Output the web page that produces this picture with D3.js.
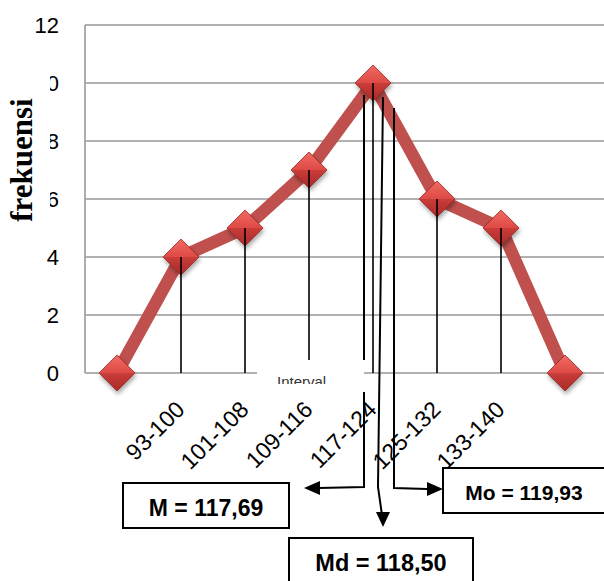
<!DOCTYPE html>
<html lang="id">
<head>
<meta charset="UTF-8">
<title>Poligon frekuensi</title>
<script src="https://d3js.org/d3.v7.min.js"></script>
<style>
  body { margin: 0; background: #fff; }
  svg { display: block; }
</style>
</head>
<body>
<div id="chart"></div>
<script>
    // data
    const intervals = ["", "93-100", "101-108", "109-116", "117-124", "125-132", "133-140", ""];
    const freq = [0, 4, 5, 7, 10, 6, 5, 0];
    const yTicks = [0, 2, 4, 6, 8, 10, 12];
    const stats = [
        { label: "M = 117,69", off: -9 },
        { label: "Md = 118,50", off: 6 },
        { label: "Mo = 119,93", off: 21 }
    ];

    const W = 604, H = 581;
    const plot = { left: 85, right: 597, top: 25, bottom: 373 };

    const svg = d3.select("#chart").append("svg")
        .attr("width", W).attr("height", H);

    const defs = svg.append("defs");
    const grad = defs.append("linearGradient").attr("id", "dia")
        .attr("x1", 0).attr("y1", 0).attr("x2", 0).attr("y2", 1);
    grad.append("stop").attr("offset", "0%").attr("stop-color", "#f26a64");
    grad.append("stop").attr("offset", "50%").attr("stop-color", "#de4a45");
    grad.append("stop").attr("offset", "51%").attr("stop-color", "#c93c38");
    grad.append("stop").attr("offset", "100%").attr("stop-color", "#a82b29");
    const sh = defs.append("filter").attr("id", "shadow")
        .attr("x", "-50%").attr("y", "-50%").attr("width", "200%").attr("height", "200%");
    sh.append("feDropShadow").attr("dx", 1).attr("dy", 3).attr("stdDeviation", 2)
        .attr("flood-color", "#000").attr("flood-opacity", 0.35);
    defs.append("clipPath").attr("id", "intClip")
        .append("rect").attr("x", 257).attr("y", 360).attr("width", 107).attr("height", 24);

    const x = d3.scalePoint()
        .domain(d3.range(intervals.length))
        .range([plot.left, plot.right])
        .padding(0.5);

    const y = d3.scaleLinear()
        .domain([0, 12])
        .range([plot.bottom, plot.top]);

    // grid
    svg.append("g")
        .selectAll("line")
        .data(yTicks)
        .enter()
        .append("line")
        .attr("x1", plot.left)
        .attr("x2", 604)
        .attr("y1", d => y(d))
        .attr("y2", d => y(d))
        .attr("stroke", "#999")
        .attr("stroke-width", 1.6);

    svg.append("line")
        .attr("x1", plot.left).attr("x2", plot.left)
        .attr("y1", y(12)).attr("y2", y(0))
        .attr("stroke", "#999").attr("stroke-width", 1.6);

    // y tick labels
    svg.append("g")
        .selectAll("text")
        .data(yTicks)
        .enter()
        .append("text")
        .attr("x", 59)
        .attr("y", d => y(d) + 8)
        .attr("text-anchor", "end")
        .style("font-family", "Liberation Sans, Arial, sans-serif")
        .style("font-size", "22px")
        .text(d => d);

    // y title with white box (covers part of the tick labels)
    svg.append("rect")
        .attr("x", 0).attr("y", 66).attr("width", 50).attr("height", 180)
        .attr("fill", "#fff");
    svg.append("text")
        .attr("transform", "translate(32,160) rotate(-90)")
        .attr("text-anchor", "middle")
        .style("font-family", "Liberation Serif, 'Times New Roman', serif")
        .style("font-weight", "bold")
        .style("font-size", "31px")
        .text("frekuensi");

    const pts = freq.map((v, i) => ({ i: i, v: v }));
    const peak = pts[d3.maxIndex(freq)];
    const px = x(peak.i), py = y(peak.v);

    // drop lines
    svg.append("g")
        .selectAll("line")
        .data(pts.filter(d => d.v > 0))
        .enter()
        .append("line")
        .attr("x1", d => x(d.i))
        .attr("x2", d => x(d.i))
        .attr("y1", d => y(d.v))
        .attr("y2", y(0))
        .attr("stroke", "#000")
        .attr("stroke-width", 1.6);

    // Interval box
    svg.append("rect")
        .attr("x", 257).attr("y", 360).attr("width", 107).attr("height", 32)
        .attr("fill", "#fff");
    svg.append("text")
        .attr("clip-path", "url(#intClip)")
        .attr("x", 277).attr("y", 387)
        .style("font-family", "Liberation Sans, Arial, sans-serif")
        .style("font-size", "15px")
        .attr("fill", "#333")
        .text("Interval");

    // line
    svg.append("path")
        .datum(pts)
        .attr("d", d3.line().x(d => x(d.i)).y(d => y(d.v)))
        .attr("fill", "none")
        .attr("stroke", "#c0504d")
        .attr("stroke-width", 12.5)
        .attr("stroke-linejoin", "round");

    // markers
    svg.append("g")
        .selectAll("path")
        .data(pts)
        .enter()
        .append("path")
        .attr("transform", d => `translate(${x(d.i)},${y(d.v)})`)
        .attr("d", "M0,-18L18,0L0,18L-18,0Z")
        .attr("fill", "url(#dia)")
        .attr("stroke", "#9a2a28")
        .attr("stroke-width", 0.8)
        .attr("filter", "url(#shadow)");

    // redraw drop line tops over markers
    svg.append("g")
        .selectAll("line")
        .data(pts.filter(d => d.v > 0))
        .enter()
        .append("line")
        .attr("x1", d => x(d.i))
        .attr("x2", d => x(d.i))
        .attr("y1", d => y(d.v))
        .attr("y2", d => y(d.v) + 18)
        .attr("stroke", "#000")
        .attr("stroke-width", 1.6);

    // x labels
    svg.append("g")
        .selectAll("text")
        .data(pts)
        .enter()
        .append("text")
        .attr("transform", d => `translate(${x(d.i) + 5},${plot.bottom + 38}) rotate(-45)`)
        .attr("text-anchor", "end")
        .style("font-family", "Liberation Sans, Arial, sans-serif")
        .style("font-size", "23px")
        .text(d => intervals[d.i]);

    // statistic annotation lines
    const mx = px + stats[0].off, mdx = px + stats[1].off, mox = px + stats[2].off;
    const lineAttr = sel => sel.attr("fill", "none").attr("stroke", "#000").attr("stroke-width", 2);

    svg.append("path").call(lineAttr)
        .attr("d", `M${mx},${py + 12}L${mx},360M${mx},392L${mx},487L${mx - 45},488`);
    svg.append("path").call(lineAttr)
        .attr("d", `M${mdx + 4},${py + 14}L${mdx - 1},487L${mdx + 3},515`);
    svg.append("path").call(lineAttr)
        .attr("d", `M${mox},${py + 25}L${mox},488L${mox + 33},489`);

    // arrow heads
    const arrows = [
        [[mx - 60, 488], [mx - 44, 481], [mx - 44, 495]],
        [[mdx + 4, 527], [mdx - 3, 512], [mdx + 11, 512]],
        [[mox + 49, 489], [mox + 33, 482], [mox + 33, 496]]
    ];
    svg.append("g").selectAll("path")
        .data(arrows).enter().append("path")
        .attr("d", d => "M" + d.join("L") + "Z")
        .attr("fill", "#000");

    // stat boxes
    const boxes = [
        { x: 123, y: 483, w: 166, h: 45, tx: 206, ty: 516, fs: 23 },
        { x: 289, y: 538, w: 184, h: 60, tx: 381, ty: 571, fs: 23.5 },
        { x: 443, y: 468, w: 170, h: 45, tx: 524, ty: 500, fs: 21 }
    ];
    boxes.forEach((b, i) => {
        svg.append("rect")
            .attr("x", b.x).attr("y", b.y).attr("width", b.w).attr("height", b.h)
            .attr("fill", "#fff").attr("stroke", "#000").attr("stroke-width", 2);
        svg.append("text")
            .attr("x", b.tx).attr("y", b.ty)
            .attr("text-anchor", "middle")
            .style("font-family", "Liberation Sans, Arial, sans-serif")
            .style("font-weight", "bold")
            .style("font-size", b.fs + "px")
            .text(stats[i].label);
    });
</script>
</body>
</html>
